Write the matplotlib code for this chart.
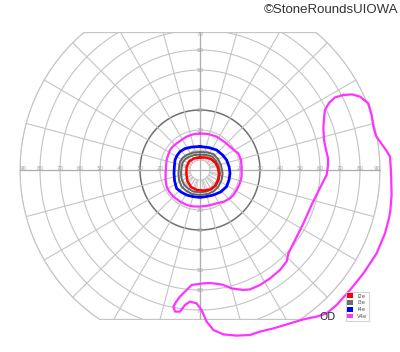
import numpy as np
import matplotlib
matplotlib.use("Agg")
import matplotlib.pyplot as plt
from matplotlib.patches import Polygon, Patch

# ---- data (visual-field coordinates in degrees: x = horizontal, y = vertical) ----
ring_values = [10, 20, 30, 40, 50, 60, 70, 80, 90]
h_labels = [20, 30, 40, 50, 60, 70, 80, 90]
v_labels = [20, 30, 40, 50, 60, 70]
isopter_names = ["I2e", "I3e", "I4e", "V4e"]

i2e_x = [0, 3, 5.5, 7.8, 9, 9.5, 9, 7.5, 5, 2, -1.5, -4.5, -6.3, -6.8, -6.7, -5.5, -3, 0]
i2e_y = [6.3, 6.2, 5.5, 3.5, 1, -2, -5, -8, -9.8, -10.3, -10, -8.5, -5.5, -2, 1.5, 4.2, 5.8, 6.3]

i3e_outer_x = [0, 3.5, 6.7, 9, 10.5, 11.3, 10.8, 9.2, 7, 4, 0, -4, -7, -9.2, -10.5, -10.8, -10.5, -10, -8.5, -6.7, -3.5, 0]
i3e_outer_y = [9, 8.8, 8, 5.5, 2.5, -1.7, -5, -8.3, -10.5, -12, -12.5, -12, -10.3, -8.3, -5, -1.7, 1.5, 4.2, 6.3, 7.5, 8.7, 9]
i3e_inner_x = [0, 3.3, 6, 8, 9.3, 10, 9.5, 8.2, 6.3, 3.5, 0, -3.5, -6, -8, -9.2, -9.5, -9.2, -8.7, -7.3, -5.7, -3, 0]
i3e_inner_y = [7.7, 7.5, 6.8, 4.5, 1.8, -1.7, -4.8, -7.5, -9.3, -10.7, -11.2, -10.7, -9.2, -7.3, -4.5, -1.7, 1.3, 3.7, 5.5, 6.5, 7.5, 7.7]

i4e_x = [0, 4.5, 8.3, 11.3, 13.3, 14.6, 15, 14.5, 13.3, 10.3, 6.7, 3, 0, -3.5, -6.7, -9.5, -11.7, -12.7, -13, -12.8, -12.5, -11.5, -10, -7.5, -4, 0]
i4e_y = [11.7, 11.2, 10, 7.5, 5, 1.5, -1.7, -5, -8.3, -11, -12.5, -13.3, -13.7, -13.3, -12.5, -11, -9.2, -5.5, -1.7, 2, 5, 7.2, 9.2, 10.7, 11.5, 11.7]

v4e_central_x = [0, 4, 8.3, 12, 15, 17.5, 19.2, 20.5, 20.8, 20.8, 19.8, 18.3, 16.7, 15, 12, 8.3, 4, 0,
                 -3.5, -6.7, -10, -13.3, -15.3, -16.7, -17.2, -17.2, -17, -16.7, -15.8, -15, -13.5, -11.7, -9, -6.7, -3.5, 0]
v4e_central_y = [18.3, 18, 16.7, 14.2, 11.7, 9.5, 8.3, 5, 1.7, -3.3, -7, -10, -12.5, -14.2, -15.8, -16.7, -17.8, -18.3,
                 -18.2, -17.5, -15.8, -13.3, -11, -8.3, -5, -1.7, 1.5, 5, 7.8, 10, 11.8, 13.3, 15.2, 16.7, 17.8, 18.3]

v4e_periph_x = [71.7, 76, 80, 84.2, 85.8, 86.7, 88, 90, 93, 95, 95.5, 95.8, 95.2, 94.7, 92.5, 88.3, 81.7, 75, 68.3,
                63.3, 58.3, 51.7, 45, 36.7, 30, 25, 18.3, 11.7, 6.7, 3.3, 0.8, -1.7, -5, -7.5, -10, -12.5, -13.3,
                -12, -10, -6.7, -4.2, 1.7, 5, 9.2, 11.7, 15.8, 21.7, 25, 30, 35, 40, 43.3, 44.2, 46.7, 51.7, 56,
                59, 61.5, 63.3, 64, 64, 63, 62, 61.7, 62, 62.5, 64.5, 67.5, 71.7]
v4e_periph_y = [37.5, 37.8, 36.7, 33.3, 27.5, 21.7, 17, 14.2, 10, 6.7, -0.8, -12.5, -20, -23.3, -31.7, -41.7, -51.7, -60, -67.5,
                -71.7, -73.3, -74.7, -76.7, -79.2, -80.8, -82.5, -82.8, -82.2, -80, -75.8, -70, -66.7, -65.8, -67.5, -70.8, -70.8, -68.3,
                -66, -63.3, -60, -57.5, -56.7, -56.5, -57, -57.5, -59.2, -60, -59.7, -57.5, -54.2, -50, -45.8, -41.7, -36.7, -26.7, -17,
                -11, -6, -2.5, 2, 6, 10, 15, 20.8, 26, 30, 33.5, 36.3, 37.5]

# ---- figure ----
fig = plt.figure(figsize=(4.0, 3.52), dpi=100)
ax = fig.add_axes([0, 0, 1, 1])
ax.set_xlim(-100, 100)
ax.set_ylim(-91, 85)
ax.set_aspect("equal")
ax.axis("off")

R = 90
y_top, y_bot = 68.7, -74.7
th1 = np.arcsin(y_top / R)
th2 = np.arcsin(y_bot / R)
right_arc = np.linspace(th1, th2, 100)
left_arc = np.linspace(np.pi - th2, np.pi - th1, 100)
angs = np.concatenate([right_arc, left_arc])
frame_xy = np.column_stack([R * np.cos(angs), R * np.sin(angs)])
frame = Polygon(frame_xy, closed=True, facecolor="none", edgecolor="#c4c4c4", lw=0.8)
ax.add_patch(frame)
clip = Polygon(frame_xy, closed=True, transform=ax.transData, facecolor="none", edgecolor="none")

grid_col = "#c4c4c4"
t = np.linspace(0, 2 * np.pi, 400)
# rings
for r in ring_values:
    col, lw = ("#707070", 1.1) if r == 30 else (grid_col, 0.8)
    ln, = ax.plot(r * np.cos(t), r * np.sin(t), color=col, lw=lw, zorder=1)
    ln.set_clip_path(clip)
ax.plot(5 * np.cos(t), 5 * np.sin(t), color=grid_col, lw=0.6, zorder=1)
# meridians every 15 deg
for a in np.deg2rad(np.arange(0, 360, 15)):
    ln, = ax.plot([5 * np.cos(a), 100 * np.cos(a)], [5 * np.sin(a), 100 * np.sin(a)],
                  color=grid_col, lw=0.8, zorder=1)
    ln.set_clip_path(clip)
# fine spokes between 5 and 10 deg
for a in np.deg2rad(np.arange(0, 360, 10)):
    ax.plot([5 * np.cos(a), 10 * np.cos(a)], [5 * np.sin(a), 10 * np.sin(a)], color=grid_col, lw=0.5, zorder=1)
# axes through centre
ax.plot([-90, 90], [0, 0], color="#b0b0b0", lw=0.9, zorder=1)
ln, = ax.plot([0, 0], [-80, 80], color="#b0b0b0", lw=0.9, zorder=1)
ln.set_clip_path(clip)

lab_kw = dict(fontsize=4.0, color="#a0a0a0", ha="center", va="center", zorder=2)
for v in h_labels:
    pos = 88.5 if v == 90 else v
    ax.text(pos, 0.6, str(v), **lab_kw)
    ax.text(-pos, 0.6, str(v), **lab_kw)
for v in v_labels:
    ax.text(0, v - (2.0 if v == 70 else 0), str(v), **lab_kw)
    ax.text(0, -v - (0.8 if v == 70 else 0), str(v), **lab_kw)

# ---- isopters ----
c_red, c_gray, c_blue, c_mag = "#ff0000", "#646464", "#0000ff", "#ff33ff"
ax.plot(v4e_central_x, v4e_central_y, color=c_mag, lw=1.6, zorder=3)
ax.plot(v4e_periph_x, v4e_periph_y, color=c_mag, lw=1.6, zorder=3, solid_joinstyle="round")
ax.plot(i4e_x, i4e_y, color=c_blue, lw=2.0, zorder=4)
ax.plot(i3e_outer_x, i3e_outer_y, color=c_gray, lw=1.4, zorder=4)
ax.plot(i3e_inner_x, i3e_inner_y, color=c_gray, lw=1.4, zorder=4)
ax.plot(i2e_x, i2e_y, color=c_red, lw=1.8, zorder=5)

# ---- legend / annotations ----
handles = [Patch(facecolor=c, edgecolor="none") for c in (c_red, "#6e6e6e", c_blue, c_mag)]
leg = ax.legend(handles, isopter_names, loc="upper left",
                bbox_to_anchor=(345.5 / 400, 1 - 291.5 / 352), bbox_transform=fig.transFigure,
                fontsize=3.8, handlelength=1.0, handleheight=1.0, handletextpad=0.9,
                borderpad=0.35, labelspacing=0.3, borderaxespad=0, fancybox=False,
                frameon=True, edgecolor="#c8c8c8")
for txt in leg.get_texts():
    txt.set_color("#555555")
leg.get_frame().set_linewidth(0.8)

ax.text(64, -73.5, "OD", fontsize=7.5, color="#333333", ha="center", va="center")
fig.text(398 / 400, 1 - 10 / 352, "\u00a9StoneRoundsUIOWA", fontsize=9.5, color="#333333",
         ha="right", va="center", family="Liberation Sans")

fig.savefig("out.png", dpi=100)
